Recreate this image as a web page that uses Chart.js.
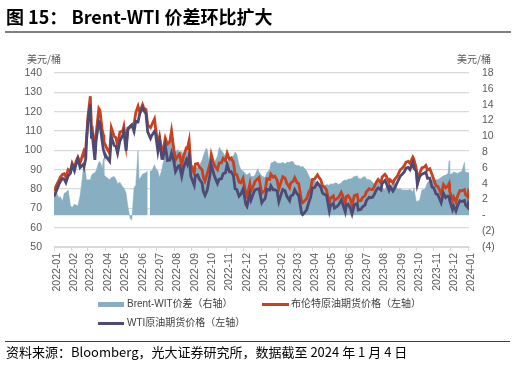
<!DOCTYPE html>
<html><head><meta charset="utf-8">
<script src="https://cdn.jsdelivr.net/npm/chart.js@4.4.1/dist/chart.umd.min.js"></script>
<style>
html,body{margin:0;padding:0;background:#fff;}
#wrap{position:relative;width:516px;height:365px;overflow:hidden;background:#fff;}
#c{position:absolute;left:0;top:0;width:516px;height:300px;}
.t{position:absolute;white-space:nowrap;}
#title{left:6px;top:7px;font:bold 18px/18px "Noto Sans CJK SC";color:#000;}
#tline{position:absolute;left:5px;top:31px;width:506px;height:2px;background:#7f7f7f;}
.unit{top:54px;font:10px/10px "Noto Sans CJK SC";color:#595959;}
.lg{font:10px/10px "Liberation Sans","Noto Sans CJK SC";color:#404040;}
.sw{position:absolute;}
#fline{position:absolute;left:5px;top:341px;width:505px;height:1px;background:#404040;}
#foot{left:6px;top:345px;font:13px/13px "Noto Sans CJK SC";color:#000;}
</style></head><body>
<div id="wrap">
<canvas id="c" width="516" height="300"></canvas>
<div class="t" id="title">图 15： Brent-WTI 价差环比扩大</div>
<div id="tline"></div>
<div class="t unit" style="left:27px">美元/桶</div>
<div class="t unit" style="left:457px">美元/桶</div>
<div class="sw" style="left:98px;top:302px;width:26px;height:5px;background:#87aec1"></div>
<div class="t lg" style="left:127px;top:299px">Brent-WIT价差（右轴）</div>
<div class="sw" style="left:262px;top:303px;width:27px;height:3px;background:#c9411e"></div>
<div class="t lg" style="left:291px;top:299px">布伦特原油期货价格（左轴）</div>
<div class="sw" style="left:98px;top:322px;width:26px;height:3px;background:#4e4a73"></div>
<div class="t lg" style="left:127px;top:318px">WTI原油期货价格（左轴）</div>
<div id="fline"></div>
<div class="t" id="foot">资料来源：Bloomberg，光大证券研究所，数据截至 2024 年 1 月 4 日</div>
</div>
<script>
// ---- data ----
const tickLabels = ['2022-01','2022-02','2022-03','2022-04','2022-05','2022-06','2022-07','2022-08','2022-09','2022-10','2022-11','2022-12',
  '2023-01','2023-02','2023-03','2023-04','2023-05','2023-06','2023-07','2023-08','2023-09','2023-10','2023-11','2023-12','2024-01'];

const dates = [
 '2022-01-03','2022-01-07','2022-01-12','2022-01-14','2022-01-18','2022-01-21','2022-01-24','2022-01-28',
 '2022-02-01','2022-02-04','2022-02-08','2022-02-11','2022-02-14','2022-02-18','2022-02-24','2022-02-25','2022-02-28',
 '2022-03-01','2022-03-04','2022-03-08','2022-03-10','2022-03-11','2022-03-16','2022-03-18','2022-03-23','2022-03-25','2022-03-29','2022-03-31',
 '2022-04-01','2022-04-06','2022-04-11','2022-04-14','2022-04-19','2022-04-22','2022-04-25','2022-04-29',
 '2022-05-04','2022-05-06','2022-05-10','2022-05-13','2022-05-17','2022-05-20','2022-05-24','2022-05-27','2022-05-31',
 '2022-06-03','2022-06-08','2022-06-10','2022-06-14','2022-06-17','2022-06-22','2022-06-24','2022-06-29',
 '2022-07-01','2022-07-05','2022-07-08','2022-07-12','2022-07-14','2022-07-18','2022-07-22','2022-07-26','2022-07-29',
 '2022-08-02','2022-08-05','2022-08-10','2022-08-12','2022-08-16','2022-08-19','2022-08-24','2022-08-26','2022-08-29',
 '2022-09-01','2022-09-07','2022-09-09','2022-09-13','2022-09-16','2022-09-21','2022-09-23','2022-09-26','2022-09-30',
 '2022-10-05','2022-10-07','2022-10-12','2022-10-14','2022-10-18','2022-10-21','2022-10-25','2022-10-28',
 '2022-11-01','2022-11-04','2022-11-08','2022-11-11','2022-11-15','2022-11-18','2022-11-21','2022-11-25','2022-11-28',
 '2022-12-02','2022-12-07','2022-12-09','2022-12-14','2022-12-16','2022-12-21','2022-12-23','2022-12-30',
 '2023-01-04','2023-01-06','2023-01-10','2023-01-13','2023-01-18','2023-01-20','2023-01-24','2023-01-27','2023-01-31',
 '2023-02-03','2023-02-07','2023-02-10','2023-02-14','2023-02-17','2023-02-22','2023-02-24','2023-02-28',
 '2023-03-03','2023-03-07','2023-03-10','2023-03-15','2023-03-17','2023-03-20','2023-03-24','2023-03-28','2023-03-31',
 '2023-04-03','2023-04-07','2023-04-12','2023-04-14','2023-04-18','2023-04-21','2023-04-25','2023-04-28',
 '2023-05-03','2023-05-05','2023-05-10','2023-05-12','2023-05-16','2023-05-19','2023-05-24','2023-05-26','2023-05-31',
 '2023-06-02','2023-06-05','2023-06-09','2023-06-12','2023-06-16','2023-06-21','2023-06-23','2023-06-28','2023-06-30',
 '2023-07-05','2023-07-07','2023-07-12','2023-07-14','2023-07-18','2023-07-21','2023-07-25','2023-07-28',
 '2023-08-02','2023-08-04','2023-08-09','2023-08-11','2023-08-16','2023-08-18','2023-08-23','2023-08-25','2023-08-31',
 '2023-09-05','2023-09-08','2023-09-12','2023-09-15','2023-09-19','2023-09-22','2023-09-27','2023-09-29',
 '2023-10-03','2023-10-05','2023-10-09','2023-10-13','2023-10-18','2023-10-20','2023-10-23','2023-10-27','2023-10-31',
 '2023-11-03','2023-11-07','2023-11-10','2023-11-16','2023-11-20','2023-11-24','2023-11-28','2023-11-30',
 '2023-12-01','2023-12-06','2023-12-08','2023-12-12','2023-12-15','2023-12-19','2023-12-22','2023-12-27','2023-12-29',
 '2024-01-02','2024-01-03','2024-01-04'];

const brent = [
 78.98,81.75,84.67,86.06,87.51,87.89,86.27,90.03,
 89.16,93.27,90.78,94.44,96.48,93.54,99.08,97.93,100.99,
 104.97,118.11,127.98,109.33,112.67,98.02,107.93,121.60,120.65,110.23,107.91,
 104.39,101.07,98.48,111.70,107.25,106.65,102.32,109.34,
 110.14,112.39,102.46,111.55,111.93,112.55,113.56,119.43,122.84,
 119.72,123.58,122.01,121.17,113.12,111.74,113.12,116.26,
 111.63,102.77,107.02,99.49,99.10,106.27,103.20,104.40,110.01,
 100.54,94.92,97.40,98.15,92.34,96.72,101.22,100.99,105.09,
 92.36,88.00,92.84,93.17,91.35,89.83,86.15,84.06,87.96,
 93.37,97.92,92.45,91.63,90.03,93.50,93.52,95.77,
 94.65,98.57,95.36,95.99,93.86,87.62,87.45,83.63,83.19,
 85.57,77.17,76.10,82.70,79.04,82.20,83.92,85.91,
 77.84,78.57,79.10,85.28,84.98,87.63,86.13,86.66,84.49,
 79.94,83.69,86.39,85.58,83.00,80.60,83.16,83.89,
 85.83,83.29,82.78,73.69,72.97,73.79,74.99,78.65,79.77,
 84.93,85.12,87.33,86.31,84.77,81.66,80.77,79.54,
 72.33,75.30,76.41,74.17,74.91,75.58,78.36,76.95,72.66,
 76.13,76.71,74.79,71.84,76.61,77.12,73.85,74.03,75.41,
 76.65,78.47,80.11,79.87,79.63,81.07,83.64,84.99,
 83.20,86.24,87.55,86.81,83.45,84.80,83.21,84.48,86.86,
 90.04,90.65,92.06,93.93,94.34,93.27,96.55,95.31,
 90.92,84.07,88.15,90.89,91.50,92.16,89.83,90.48,87.41,
 84.89,81.61,81.43,77.42,82.32,80.58,81.68,82.83,
 78.88,74.30,75.84,73.24,76.55,79.23,79.07,79.65,77.04,
 75.89,78.25,77.59];

const wti = [
 76.08,78.90,82.64,83.82,85.43,85.14,83.31,86.82,
 88.20,92.31,89.36,93.10,95.46,91.07,92.81,91.59,95.72,
 103.41,115.68,123.70,106.02,109.33,95.04,104.70,114.93,113.90,104.24,100.28,
 99.27,96.23,94.29,106.95,102.56,102.07,98.54,104.69,
 107.81,109.77,99.76,110.49,112.40,113.23,109.77,115.07,114.67,
 118.87,122.11,120.67,118.93,109.56,106.19,107.62,109.78,
 108.43,99.50,104.79,95.84,95.78,102.60,94.70,94.98,98.62,
 94.42,89.01,91.93,92.09,86.53,90.77,94.89,93.06,97.01,
 86.61,81.94,86.79,87.31,85.11,82.94,78.74,76.71,79.49,
 87.76,92.64,87.27,85.61,82.82,85.05,85.32,87.90,
 88.37,92.61,88.91,88.96,86.92,80.08,79.73,76.28,77.24,
 79.98,72.01,71.02,77.28,74.29,78.29,79.56,80.26,
 72.84,73.77,75.12,79.86,79.48,81.64,79.62,79.68,78.87,
 73.39,77.14,79.72,79.06,76.34,73.95,76.32,77.05,
 79.68,77.58,76.68,67.61,66.74,67.64,69.26,73.20,75.67,
 80.42,80.70,83.26,82.52,80.86,77.87,77.07,76.78,
 68.60,71.34,72.56,70.04,70.86,71.69,74.34,72.67,68.09,
 71.74,72.15,70.17,67.12,71.78,72.53,69.16,69.56,70.64,
 71.79,73.86,75.75,75.42,75.75,77.07,79.63,80.58,
 79.49,82.82,84.40,83.19,79.38,81.25,78.89,79.83,83.63,
 86.69,87.51,88.84,90.77,91.20,90.03,93.68,90.79,
 89.23,82.31,86.38,87.69,88.32,88.75,85.49,85.54,81.02,
 80.51,77.37,77.17,72.90,77.83,75.54,76.41,75.96,
 74.07,69.38,71.23,68.61,71.43,73.94,73.56,74.11,71.65,
 70.38,72.70,72.19];

const spreadDates = [
 '2022-01-03','2022-01-07','2022-01-12','2022-01-14','2022-01-18','2022-01-21','2022-01-24','2022-01-28',
 '2022-02-01','2022-02-04','2022-02-08','2022-02-11','2022-02-14','2022-02-18','2022-02-22','2022-02-24','2022-02-25','2022-02-28',
 '2022-03-01','2022-03-04','2022-03-08','2022-03-10','2022-03-11','2022-03-16','2022-03-18','2022-03-23','2022-03-25','2022-03-29','2022-03-31',
 '2022-04-01','2022-04-06','2022-04-11','2022-04-14','2022-04-19','2022-04-22','2022-04-25','2022-04-29',
 '2022-05-04','2022-05-06','2022-05-10','2022-05-13','2022-05-17','2022-05-20','2022-05-24','2022-05-27','2022-05-31',
 '2022-06-02','2022-06-08','2022-06-10','2022-06-14','2022-06-17','2022-06-20','2022-06-21','2022-06-24','2022-06-29',
 '2022-07-01','2022-07-05','2022-07-08','2022-07-12','2022-07-14','2022-07-18','2022-07-22','2022-07-26','2022-07-29',
 '2022-08-02','2022-08-05','2022-08-10','2022-08-12','2022-08-16','2022-08-19','2022-08-24','2022-08-26','2022-08-29',
 '2022-09-01','2022-09-07','2022-09-09','2022-09-13','2022-09-16','2022-09-21','2022-09-23','2022-09-28','2022-09-30',
 '2022-10-05','2022-10-07','2022-10-12','2022-10-14','2022-10-18','2022-10-21','2022-10-25','2022-10-28',
 '2022-11-01','2022-11-04','2022-11-08','2022-11-11','2022-11-15','2022-11-18','2022-11-21','2022-11-25','2022-11-28',
 '2022-12-02','2022-12-07','2022-12-09','2022-12-14','2022-12-16','2022-12-21','2022-12-23','2022-12-28','2022-12-30',
 '2023-01-04','2023-01-06','2023-01-10','2023-01-13','2023-01-18','2023-01-20','2023-01-24','2023-01-27','2023-01-31',
 '2023-02-03','2023-02-07','2023-02-10','2023-02-14','2023-02-17','2023-02-22','2023-02-24','2023-02-28',
 '2023-03-03','2023-03-07','2023-03-10','2023-03-15','2023-03-17','2023-03-20','2023-03-24','2023-03-28','2023-03-31',
 '2023-04-03','2023-04-07','2023-04-12','2023-04-14','2023-04-18','2023-04-21','2023-04-25','2023-04-28',
 '2023-05-03','2023-05-05','2023-05-10','2023-05-12','2023-05-16','2023-05-19','2023-05-24','2023-05-26','2023-05-31',
 '2023-06-02','2023-06-05','2023-06-09','2023-06-12','2023-06-16','2023-06-21','2023-06-23','2023-06-28','2023-06-30',
 '2023-07-05','2023-07-07','2023-07-12','2023-07-14','2023-07-18','2023-07-21','2023-07-25','2023-07-28',
 '2023-08-02','2023-08-04','2023-08-09','2023-08-11','2023-08-16','2023-08-18','2023-08-23','2023-08-25','2023-08-31',
 '2023-09-05','2023-09-08','2023-09-12','2023-09-15','2023-09-19','2023-09-22','2023-09-27','2023-09-29',
 '2023-10-03','2023-10-05','2023-10-09','2023-10-13','2023-10-18','2023-10-20','2023-10-23','2023-10-27','2023-10-31',
 '2023-11-03','2023-11-07','2023-11-10','2023-11-16','2023-11-20','2023-11-24','2023-11-28','2023-11-30',
 '2023-12-01','2023-12-06','2023-12-08','2023-12-12','2023-12-15','2023-12-19','2023-12-22','2023-12-27','2023-12-28',
 '2024-01-02','2024-01-03','2024-01-04'];

const spread = [
 2.8,2.9,2.2,2.4,1.8,2.8,2.9,3.2,
 1.2,1.0,1.4,1.3,1.2,2.5,4.8,6.2,6.3,5.3,
 4.5,4.5,4.5,5.0,5.2,5.4,5.6,6.7,6.8,6.0,7.2,
 5.1,4.8,4.5,4.8,4.9,4.6,4.0,4.2,
 3.6,3.5,2.8,1.2,-0.4,-0.6,3.5,3.8,8.2,
 4.5,5.2,5.3,5.4,5.6,null,5.6,5.6,6.4,
 6.0,5.6,4.8,5.8,6.6,7.6,8.8,9.8,11.4,
 8.6,8.0,8.3,7.7,8.1,7.6,7.9,8.5,8.3,
 6.4,6.2,6.1,6.0,6.3,7.0,7.5,8.5,8.3,
 5.7,5.4,6.5,6.9,7.5,8.6,8.2,7.9,
 7.4,6.6,7.0,7.4,7.5,8.0,7.7,6.4,5.8,
 5.6,5.2,5.1,5.4,4.9,4.9,5.1,5.9,5.5,
 5.0,4.9,4.8,5.4,5.8,6.6,6.7,6.9,6.6,
 6.6,6.6,6.7,6.5,6.7,6.7,6.8,6.8,
 6.4,6.3,6.3,6.1,6.2,6.0,5.6,5.0,4.5,
 4.5,4.4,4.1,3.9,4.0,3.9,3.8,3.9,
 3.8,4.0,3.9,4.1,4.1,3.9,4.1,4.3,4.5,
 4.4,4.6,4.6,4.7,4.9,5.0,4.7,4.6,4.8,
 4.9,4.6,4.5,4.5,4.2,4.0,4.0,4.4,
 3.8,3.5,3.2,3.6,4.0,3.6,4.2,4.5,3.3,
 3.4,3.2,3.2,3.2,3.2,3.3,3.0,3.5,
 1.8,1.8,1.9,3.2,3.3,3.6,4.2,4.4,4.5,
 4.4,4.5,4.5,4.8,5.0,5.1,5.3,6.9,
 5.2,5.3,5.5,5.4,5.3,5.5,5.5,6.7,5.5,
 5.4,5.4,5.4];

// ---- helpers ----
const T0 = Date.UTC(2022,0,3);
function dayOf(s){const p=s.split('-').map(Number);return (Date.UTC(p[0],p[1]-1,p[2])-T0)/86400000;}
const tickDays = tickLabels.map(l=>{const p=l.split('-').map(Number);return (Date.UTC(p[0],p[1]-1,3)-T0)/86400000;});
const pts = (ds, vs) => ds.map((d,i)=>({x:dayOf(d), y:vs[i]}));
const F = '"Liberation Sans","Noto Sans CJK SC"';

new Chart(document.getElementById('c'), {
  type:'line',
  data:{datasets:[
    {label:'WTI原油期货价格（左轴）', data:pts(dates,wti), yAxisID:'y', borderColor:'#4e4a73', borderWidth:2.8, pointRadius:0, tension:0, fill:false, order:0},
    {label:'布伦特原油期货价格（左轴）', data:pts(dates,brent), yAxisID:'y', borderColor:'#c9411e', borderWidth:2.8, pointRadius:0, tension:0, fill:false, order:1},
    {label:'Brent-WIT价差（右轴）', data:pts(spreadDates,spread), yAxisID:'y1', borderColor:'#87aec1', backgroundColor:'#87aec1', borderWidth:0.5, pointRadius:0, tension:0, fill:'origin', spanGaps:false, order:2}
  ]},
  options:{
    responsive:false, animation:false, devicePixelRatio:1,
    layout:{padding:{top:73,left:0,right:0,bottom:0}},
    plugins:{legend:{display:false}, tooltip:{enabled:false}},
    scales:{
      x:{type:'linear', min:0, max:731,
        afterBuildTicks:(s)=>{s.ticks=tickDays.map(v=>({value:v}));},
        afterFit:(s)=>{s.height=53;},
        grid:{display:true, drawOnChartArea:false, drawTicks:true, tickLength:4, color:'#d9d9d9'},
        border:{display:true, color:'#d9d9d9'},
        ticks:{autoSkip:false, minRotation:90, maxRotation:90, padding:2, labelOffset:3, color:'#595959', font:{family:F, size:10.5},
          callback:(v,i)=>tickLabels[i]}
      },
      y:{position:'left', min:50, max:140,
        afterFit:(s)=>{s.width=54;},
        grid:{color:'#d9d9d9', lineWidth:1.2, drawTicks:false},
        border:{display:false},
        ticks:{stepSize:10, padding:12, color:'#595959', font:{family:F, size:10.5}}
      },
      y1:{position:'right', min:-4, max:18,
        afterFit:(s)=>{s.width=47;},
        grid:{display:false, drawTicks:false},
        border:{display:false},
        ticks:{stepSize:2, padding:13, color:'#595959', font:{family:F, size:10.5},
          callback:(v)=> v===0 ? '-' : (v<0 ? '('+(-v)+')' : String(v))}
      }
    }
  }
});
</script>
</body></html>
